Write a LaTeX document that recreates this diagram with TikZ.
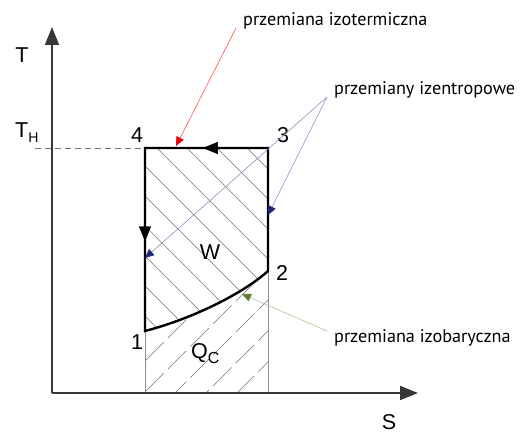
\documentclass[tikz,border=0pt]{standalone}
\usepackage{fontspec}
\setmainfont{Liberation Sans}
\newfontfamily\annfont{PT Sans}
\usetikzlibrary{arrows.meta,decorations.markings}
\definecolor{axisc}{RGB}{55,55,55}
\definecolor{hatchc}{RGB}{115,115,115}
\definecolor{redc}{RGB}{250,80,80}
\definecolor{redh}{RGB}{230,0,0}
\definecolor{bluec}{RGB}{135,145,195}
\definecolor{blueh}{RGB}{30,40,115}
\definecolor{greenc}{RGB}{175,195,145}
\definecolor{greenh}{RGB}{95,125,45}
\tikzset{
  axisline/.style={draw=axisc, line width=1.6pt, -{Triangle[length=18pt,width=14pt]}},
  hatchline/.style={draw=hatchc, line width=0.7pt},
  cycleline/.style={draw=black, line width=2.4pt, line join=miter},
  thinv/.style={draw=hatchc!80, line width=0.8pt},
  lbl/.style={inner sep=0pt, font=\fontsize{21.5}{24}\selectfont},
  ann/.style={inner sep=0pt, anchor=base west, font=\annfont\fontsize{18.2}{21}\selectfont},
  redarrow/.style={draw=redc, line width=0.6pt, -{Triangle[length=9pt,width=8pt,color=redh,fill=redh]}},
  bluearrow/.style={draw=bluec, line width=0.6pt, -{Triangle[length=9pt,width=8pt,color=blueh,fill=blueh]}},
  greenarrow/.style={draw=greenc, line width=0.6pt, -{Triangle[length=9pt,width=8pt,color=greenh,fill=greenh]}},
  midarrow/.style={postaction={decorate}, decoration={markings, mark=at position #1 with {\arrow{Triangle[length=15pt,width=12pt]}}}}
}
\begin{document}
\begin{tikzpicture}[x=1pt,y=-1pt]
\useasboundingbox (0,0) rectangle (520,433);
\coordinate (p1) at (145,331);
\coordinate (p2) at (268,271);
\coordinate (p3) at (268,148);
\coordinate (p4) at (145,148);
\coordinate (o) at (52,393);
\coordinate (b1) at (145,393);
\coordinate (b2) at (268,393);
\coordinate (ytip) at (52,27);
\coordinate (xtip) at (418,393);
\coordinate (dstart) at (35,148);
% hatching inside cycle
\begin{scope}
\clip (p4) -- (p3) -- (p2) .. controls (245,292) and (195,318) .. (p1) -- cycle;
\foreach \c in {-201,-171,...,129} \draw[hatchline] (100,100-\c) -- (300,300-\c);
\end{scope}
% hatching under curve
\begin{scope}
\clip (p1) .. controls (195,318) and (245,292) .. (p2) -- (b2) -- (b1) -- cycle;
\foreach \c in {475,506,...,661} \draw[hatchline, dash pattern=on 26pt off 6pt] (100,\c-100) -- (300,\c-300);
\end{scope}
\draw[thinv] (p1) -- (b1);
\draw[thinv] (p2) -- (b2);
\draw[draw=hatchc, line width=0.7pt, dash pattern=on 6pt off 4pt] (dstart) -- (p4);
% axes
\draw[axisline] (o) -- (ytip);
\draw[axisline, line width=2pt] (o) -- (xtip);
% cycle
\draw[cycleline] (p1) .. controls (195,318) and (245,292) .. (p2) -- (p3) -- (p4) -- cycle;
\path[midarrow=0.53] (p3) -- (p4);
\path[midarrow=0.51] (p4) -- (p1);
% labels
\node[lbl] (lT) at (22,55) {T};
\node[lbl, anchor=base west] (lTH) at (15,138) {T\raisebox{-5pt}{\fontsize{14}{16}\selectfont H}};
\node[lbl] (lS) at (389,422) {S};
\node[lbl] (l4) at (137,135) {4};
\node[lbl] (l3) at (283,135) {3};
\node[lbl] (l2) at (282,273) {2};
\node[lbl] (l1) at (137,342) {1};
\node[lbl] (lW) at (210,252) {W};
\node[lbl, anchor=base west] (lQ) at (191,358) {Q\raisebox{-5pt}{\fontsize{16}{18}\selectfont C}};
% annotations
\node[ann] (a1) at (243,26) {przemiana izotermiczna};
\node[ann] (a2) at (334,95) {przemiany izentropowe};
\node[ann] (a3) at (334,342) {przemiana izobaryczna};
\coordinate (s1) at (236,28);
\coordinate (s2) at (327,97);
\coordinate (s3) at (327,331);
\coordinate (e1) at (176,146);
\coordinate (e2a) at (268,215);
\coordinate (e2b) at (145,258);
\coordinate (e3) at (242,294);
\draw[redarrow] (s1) -- (e1);
\draw[bluearrow] (s2) -- (e2a);
\draw[bluearrow] (s2) -- (e2b);
\draw[greenarrow] (s3) -- (e3);
\end{tikzpicture}
\end{document}
